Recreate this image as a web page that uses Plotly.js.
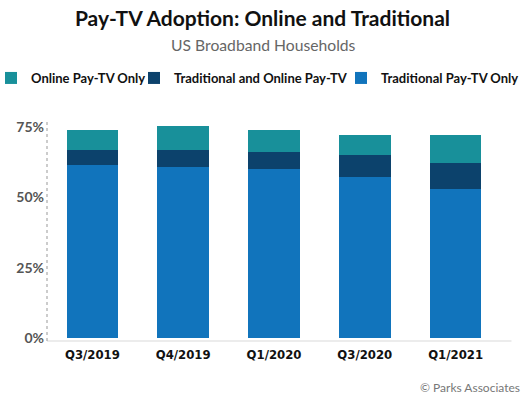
<!DOCTYPE html>
<html>
<head>
<meta charset="utf-8">
<script src="https://cdn.plot.ly/plotly-3.0.1.min.js"></script>
<style>html,body{margin:0;padding:0;background:#fff;}#chart{width:525px;height:400px;}</style>
</head>
<body>
<div id="chart"></div>
<script>
var categories = ["Q3/2019", "Q4/2019", "Q1/2020", "Q3/2020", "Q1/2021"];
var traditionalOnly = [61.4, 60.7, 60.2, 57.4, 53.0];
var traditionalAndOnline = [5.6, 6.3, 5.9, 7.5, 9.4];
var onlineOnly = [7.1, 8.5, 8.0, 7.3, 9.8];
var seriesNames = ["Traditional Pay-TV Only", "Traditional and Online Pay-TV", "Online Pay-TV Only"];
var tickValues = [0, 25, 50, 75];
var tickLabels = ["0%", "25%", "50%", "75%"];

var colors = ["#1174BC", "#0C426C", "#18909A"];
var seriesValues = [traditionalOnly, traditionalAndOnline, onlineOnly];
var legendIds = ["legend3", "legend2", "legend"];
var legendLeft = [341, 134, 0];
var legendIndent = [0, 0, -9];

var traces = seriesValues.map(function (vals, i) {
  return {
    type: "bar",
    name: seriesNames[i],
    x: categories,
    y: vals,
    legend: legendIds[i],
    marker: { color: colors[i], line: { width: 0 } },
    hoverinfo: "skip"
  };
});

function legendAt(left, indent) {
  return {
    orientation: "h",
    xref: "container", yref: "container",
    x: left / 525, xanchor: "left",
    y: 1 - 78 / 400, yanchor: "middle",
    bgcolor: "rgba(0,0,0,0)",
    borderwidth: 0,
    indentation: indent,
    font: { family: "Lato, 'Open Sans', sans-serif", size: 13, color: "#111", weight: "bold" },
    itemwidth: 30
  };
}

var plotTop = 113, plotH = 225, plotL = 46.5, plotW = 455;
function py(p) { return (plotTop + plotH - p) / plotH; }
function px(p) { return (p - plotL) / plotW; }

var layout = {
  width: 525,
  height: 400,
  margin: { l: plotL, r: 525 - plotL - plotW, t: plotTop, b: 400 - plotTop - plotH, pad: 0 },
  paper_bgcolor: "#fff",
  plot_bgcolor: "#fff",
  barmode: "stack",
  bargap: 0.43,
  showlegend: true,
  title: {
    text: "<b>Pay-TV Adoption: Online and Traditional</b>",
    x: 0.5, xref: "container", xanchor: "center",
    y: 1 - 19 / 400, yref: "container", yanchor: "middle",
    font: { family: "Lato, 'Open Sans', sans-serif", size: 21, color: "#111" }
  },
  legend: legendAt(legendLeft[2], legendIndent[2]),
  legend2: legendAt(legendLeft[1], legendIndent[1]),
  legend3: legendAt(legendLeft[0], legendIndent[0]),
  xaxis: {
    type: "category",
    range: [-0.5, 4.5],
    showgrid: false, zeroline: false, showline: false,
    ticks: "",
    ticklabelstandoff: 7,
    tickfont: { family: "'DejaVu Sans Condensed', sans-serif", size: 13, color: "#111", weight: "bold" },
    fixedrange: true
  },
  yaxis: {
    range: [0, 80],
    tickvals: tickValues,
    ticktext: tickLabels,
    showgrid: false, zeroline: false, showline: false,
    ticks: "",
    ticklabelstandoff: 2,
    tickfont: { family: "Lato, 'Open Sans', sans-serif", size: 14, color: "#555", weight: "bold" },
    fixedrange: true
  },
  shapes: [
    { type: "line", xref: "paper", yref: "paper", x0: 0, x1: px(512), y0: py(341), y1: py(341),
      line: { color: "#d9d9d9", width: 1 } },
    { type: "line", xref: "paper", yref: "paper", x0: 0, x1: 0, y0: py(341), y1: py(122),
      line: { color: "#999999", width: 1, dash: "dot" } }
  ],
  annotations: [
    { text: "US Broadband Households", xref: "paper", yref: "paper",
      x: px(263), y: py(45), xanchor: "center", yanchor: "middle", showarrow: false,
      font: { family: "Lato, 'Open Sans', sans-serif", size: 15.7, color: "#666" } },
    { text: "© Parks Associates", xref: "paper", yref: "paper",
      x: px(523), y: py(387), xanchor: "right", yanchor: "middle", showarrow: false,
      font: { family: "Lato, 'Open Sans', sans-serif", size: 12, color: "#777" } }
  ]
};

Plotly.newPlot("chart", traces, layout, { displayModeBar: false, staticPlot: true });
</script>
</body>
</html>
